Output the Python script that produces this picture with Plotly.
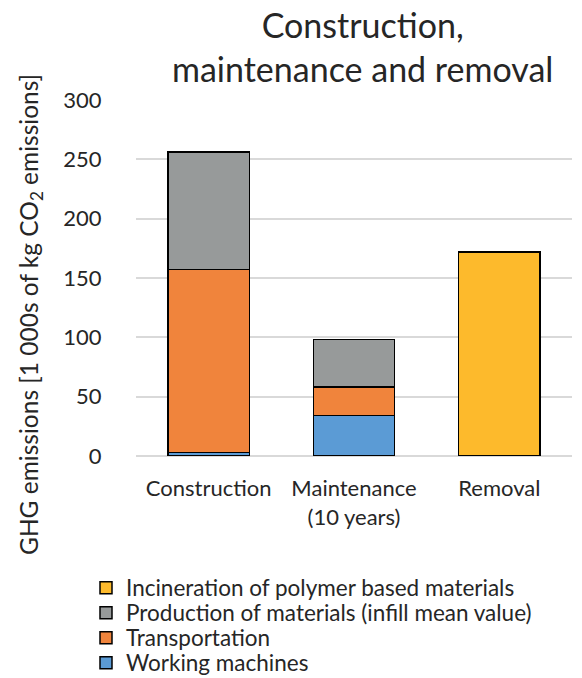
import plotly.graph_objects as go

categories = ["Construction", "Maintenance<br>(10 years)", "Removal"]
working_machines = [3, 34, 0]
transportation = [154, 24, 0]
production = [99, 40, 0]
incineration = [0, 0, 172]
y_ticks = [0, 50, 100, 150, 200, 250, 300]

FONT = "Lato"
TXT = "#262626"

# (name, values, colour, legend id, legend row centre in reference pixels)
series = [
    ("Working machines", working_machines, "#5B9BD5", "legend4", 663),
    ("Transportation", transportation, "#F0843C", "legend3", 638),
    ("Production of materials (infill mean value)", production, "#979A9A", "legend2", 613),
    ("Incineration of polymer based materials", incineration, "#FDBA2C", "legend", 588),
]

# page body adds an 8px offset; design in reference pixels minus 8
OFF = 8
FW, FH = 582 - OFF, 678 - OFF
PT, PB, PL, PR = 100 - OFF, 456 - OFF, 136 - OFF, 572 - OFF
H = PB - PT
W = PR - PL

fig = go.Figure()
legends = {}
for name, vals, col, lg, row in series:
    fig.add_trace(go.Bar(
        x=categories, y=vals, name=name, width=0.56, legend=lg,
        marker=dict(color=col, line=dict(color="#000000", width=1.5)),
    ))
    legends[lg] = dict(x=(86 - OFF - PL) / W, xanchor="left",
                       y=(PB - (row - OFF)) / H, yanchor="middle",
                       font=dict(size=22.5, family=FONT, color=TXT),
                       itemwidth=30, bgcolor="rgba(0,0,0,0)")

fig.update_layout(
    width=FW, height=FH,
    barmode="stack",
    paper_bgcolor="white", plot_bgcolor="white",
    margin=dict(l=PL, r=FW - PR, t=PT, b=FH - PB, autoexpand=False),
    font=dict(family=FONT, color=TXT, size=20),
    showlegend=True,
    xaxis=dict(showgrid=False, showline=False, ticks="outside", ticklen=13,
               tickcolor="rgba(0,0,0,0)", tickfont=dict(size=22, family=FONT, color=TXT)),
    yaxis=dict(range=[0, 300], tickvals=y_ticks, showgrid=True, gridcolor="#D9D9D9",
               gridwidth=1.5, zeroline=True, zerolinecolor="#D9D9D9", zerolinewidth=1.5,
               showline=False, ticks="outside", ticklen=29, tickcolor="rgba(0,0,0,0)",
               tickfont=dict(size=22, family=FONT, color=TXT)),
    annotations=[
        dict(text="GHG emissions [1 000s of kg CO<sub>2</sub> emissions]",
             textangle=-90, xref="paper", yref="paper",
             x=(30 - OFF - PL) / W, y=(PB - (315 - OFF)) / H,
             xanchor="center", yanchor="middle", showarrow=False,
             font=dict(size=24.5, family=FONT, color=TXT)),
        dict(text="Construction,<br>maintenance and removal",
             xref="paper", yref="paper", x=(362 - OFF - PL) / W, y=(PB - (2 - OFF)) / H,
             xanchor="center", yanchor="top", showarrow=False,
             font=dict(size=34, family=FONT, color=TXT)),
    ],
    **legends,
)

fig.write_html("out.html")
